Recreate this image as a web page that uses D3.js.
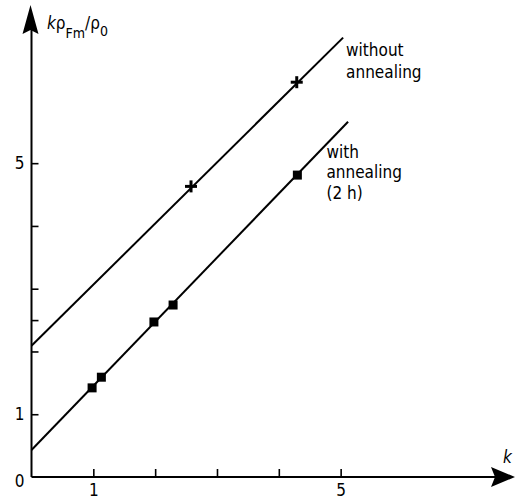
<!DOCTYPE html>
<html><head><meta charset="utf-8">
<script src="https://cdn.jsdelivr.net/npm/d3@7"></script>
<style>
html,body{margin:0;padding:0;background:#fff;}
svg{display:block;}
text{font-family:"DejaVu Sans Condensed","DejaVu Sans",sans-serif;fill:#000;}
</style></head>
<body>
<script>
// ---- data ----
const xTicks = [1, 2, 3, 4, 5];
const xTickLabels = ["1", "", "", "", "5"];
const yTicks = [1, 2, 2.5, 3, 4, 5];
const yTickLabels = ["1", "", "", "", "", "5"];

const withoutK = [2.58, 4.29];          // crosses, without annealing
const withoutV = [4.63, 6.29];
const withK = [0.98, 1.13, 1.98, 2.29, 4.30];   // squares, with annealing (2 h)
const withV = [1.42, 1.59, 2.47, 2.74, 4.81];

const withoutLineK = [0, 5.04];
const withoutLineV = [2.09, 7.00];
const withLineK = [0, 5.12];
const withLineV = [0.43, 5.66];

const W = 519, H = 501;
const svg = d3.select("body").append("svg").attr("width", W).attr("height", H);

const x = d3.scaleLinear().domain([0, 7.82]).range([31.5, 515]);
const y = d3.scaleLinear().domain([0, 7.52]).range([477, 5]);

// axes lines with arrows
const ax = svg.append("g").attr("stroke", "#000").attr("fill", "none");
ax.append("line").attr("x1", x(0)).attr("x2", x(7.5)).attr("y1", y(0)).attr("y2", y(0)).attr("stroke-width", 2);
ax.append("line").attr("x1", x(0)).attr("x2", x(0)).attr("y1", y(0)).attr("y2", y(7.2)).attr("stroke-width", 2);
const xEnd = x.range()[1], yTop = y.range()[1];
svg.append("path").attr("fill", "#000")
  .attr("d", `M${xEnd},${y(0)} L${xEnd - 24},${y(0) - 10} L${xEnd - 20},${y(0)} L${xEnd - 24},${y(0) + 10} Z`);
svg.append("path").attr("fill", "#000")
  .attr("d", `M${x(0) - 1},${yTop} L${x(0) - 9},${yTop + 29} L${x(0) - 1},${yTop + 25} L${x(0) + 7},${yTop + 29} Z`);

// x axis
const xAxis = d3.axisBottom(x).tickValues(xTicks)
  .tickFormat((d, i) => xTickLabels[i]).tickSizeInner(-8).tickSizeOuter(0).tickPadding(7);
const gx = svg.append("g").attr("transform", `translate(0,${y(0)})`).call(xAxis);
gx.select(".domain").remove();
gx.selectAll(".tick line").attr("stroke-width", 1.6);
gx.selectAll(".tick text").attr("font-size", 17).style("font-family", "\"DejaVu Sans Condensed\",\"DejaVu Sans\",sans-serif");

// y axis
const yAxis = d3.axisLeft(y).tickValues(yTicks)
  .tickFormat((d, i) => yTickLabels[i]).tickSizeInner(-7).tickSizeOuter(0).tickPadding(7);
const gy = svg.append("g").attr("transform", `translate(${x(0)},0)`).call(yAxis);
gy.select(".domain").remove();
gy.selectAll(".tick line").attr("stroke-width", 1.6);
gy.selectAll(".tick text").attr("font-size", 17).style("font-family", "\"DejaVu Sans Condensed\",\"DejaVu Sans\",sans-serif");

// origin label
svg.append("text").attr("x", x(0) - 7).attr("y", y(0) + 10).attr("text-anchor", "end")
  .attr("font-size", 17).text("0");

// fitted lines
const line = d3.line().x(d => x(d[0])).y(d => y(d[1]));
svg.append("path").attr("d", line(d3.zip(withoutLineK, withoutLineV)))
  .attr("stroke", "#000").attr("stroke-width", 2).attr("fill", "none");
svg.append("path").attr("d", line(d3.zip(withLineK, withLineV)))
  .attr("stroke", "#000").attr("stroke-width", 2).attr("fill", "none");

// square markers
svg.selectAll("rect.sq").data(d3.zip(withK, withV)).enter().append("rect")
  .attr("class", "sq").attr("x", d => x(d[0]) - 4.5).attr("y", d => y(d[1]) - 4.5)
  .attr("width", 9).attr("height", 9).attr("fill", "#000");

// cross markers
const crosses = svg.selectAll("g.cr").data(d3.zip(withoutK, withoutV)).enter().append("g")
  .attr("class", "cr").attr("transform", d => `translate(${x(d[0])},${y(d[1])})`);
crosses.append("line").attr("x1", -6).attr("x2", 6).attr("stroke", "#000").attr("stroke-width", 3);
crosses.append("line").attr("y1", -6).attr("y2", 6).attr("stroke", "#000").attr("stroke-width", 3);

// annotations
const ann = svg.append("g").attr("font-size", 17);
const t1 = ann.append("text").attr("x", x(5.04) + 3).attr("y", y(6.7));
t1.append("tspan").attr("x", x(5.04) + 3).text("without");
t1.append("tspan").attr("x", x(5.04) + 3).attr("dy", 21.5).text("annealing");
const t2 = ann.append("text").attr("x", x(4.77)).attr("y", y(5.08));
t2.append("tspan").attr("x", x(4.77)).text("with");
t2.append("tspan").attr("x", x(4.77)).attr("dy", 20).text("annealing");
t2.append("tspan").attr("x", x(4.77)).attr("dy", 20.5).text("(2 h)");

// axis titles
const yl = svg.append("text").attr("x", 47).attr("y", 29).attr("font-size", 17);
yl.append("tspan").attr("font-style", "italic").text("k");
yl.append("tspan").text("ρ");
yl.append("tspan").attr("font-size", 14).attr("dy", 9).text("Fm");
yl.append("tspan").attr("dy", -9).text("/ρ");
yl.append("tspan").attr("font-size", 14).attr("dy", 7).text("0");

svg.append("text").attr("x", 503).attr("y", 463).attr("font-size", 17)
  .attr("font-style", "italic").text("k");
</script>
</body></html>
